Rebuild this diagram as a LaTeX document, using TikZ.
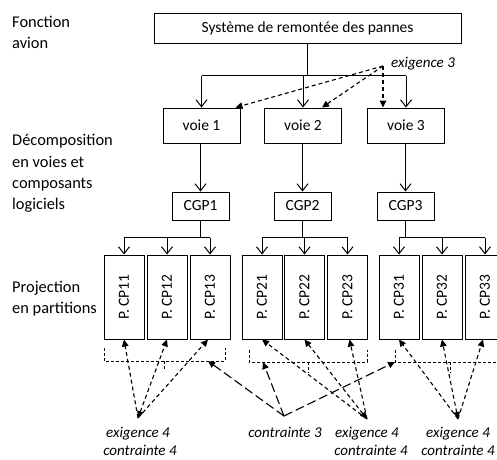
\documentclass[tikz,border=0pt]{standalone}
\usepackage{fontspec}
\usepackage{graphicx}
\setmainfont{Carlito}
\usetikzlibrary{arrows.meta}
\begin{document}
\begin{tikzpicture}[x=1pt,y=-1pt,
  dtip/.tip={Triangle[length=7pt,width=6.5pt]},
  vtip/.tip={Straight Barb[length=7pt,width=11pt,line width=1pt]},
  wire/.style={line width=1pt},
  box/.style={draw, wire, inner sep=0pt, font=\fontsize{15.5}{18}\selectfont},
  voiebox/.style={box, minimum width=77pt, minimum height=35pt},
  cgpbox/.style={box, minimum width=57pt, minimum height=28pt},
  partbox/.style={box, minimum width=40pt, minimum height=84pt},
  down/.style={wire, -vtip},
  ref/.style={line width=1.1pt, dash pattern=on 4pt off 3pt, -dtip},
  reflong/.style={line width=1.1pt, dash pattern=on 9pt off 4pt, -dtip},
  bracket/.style={line width=1pt, dash pattern=on 3pt off 2pt},
  side/.style={anchor=base west, inner sep=0pt, font=\fontsize{16.4}{20}\selectfont},
  note/.style={inner sep=0pt, font=\fontsize{15}{18}\selectfont\itshape}]
\useasboundingbox (0,0) rectangle (497,459);
\clip (0,0) rectangle (497,459);

% level labels on the left
\node[side] (la1) at (12,27) {Fonction};
\node[side] (la2) at (12,48) {avion};
\node[side] (lb1) at (12,145) {Décomposition};
\node[side] (lb2) at (12,167) {en voies et};
\node[side] (lb3) at (12,188) {composants};
\node[side] (lb4) at (12,209) {logiciels};
\node[side] (lc1) at (12,292) {Projection};
\node[side] (lc2) at (12,313) {en partitions};

% function, channels, components
\node[box, minimum width=307pt, minimum height=30pt] (sys) at (307.5,28) {Système de remontée des pannes};
\node[voiebox] (v1) at (201.5,125.5) {voie 1};
\node[voiebox] (v2) at (303,125.5) {voie 2};
\node[voiebox] (v3) at (406,125.5) {voie 3};
\node[cgpbox] (c1) at (200.5,206) {CGP1};
\node[cgpbox] (c2) at (302.5,206) {CGP2};
\node[cgpbox] (c3) at (405.5,206) {CGP3};

% partitions
\foreach \nm/\x/\t in {p11/124/11, p12/167/12, p13/210/13,
                       p21/262/21, p22/304.5/22, p23/347.5/23,
                       p31/399/31, p32/442/32, p33/485/33}
  \node[partbox] (\nm) at (\x,297) {\rotatebox{90}{P. CP\t}};

% tree: function to channels
\draw[wire] (sys.south) -- ++(0,32) coordinate (t0);
\draw[wire] (v1.north |- t0) -- (v3.north |- t0);
\foreach \n in {v1,v2,v3} \draw[down] (\n.north |- t0) -- (\n.north);

% channels to components
\foreach \v/\c in {v1/c1,v2/c2,v3/c3} \draw[down] (\c.north |- \v.south) -- (\c.north);

% components to partitions
\foreach \c/\a/\b/\cc in {c1/p11/p12/p13, c2/p21/p22/p23, c3/p31/p32/p33}{
  \draw[wire] (\c.south) -- ++(0,17) coordinate (j);
  \draw[wire] (\a.north |- j) -- (\cc.north |- j);
  \foreach \p in {\a,\b,\cc} \draw[down] (\p.north |- j) -- (\p.north);
}

% dashed groupings under the partitions
\draw[bracket] (104,348) -- (104,361) -- (225,361) -- (225,348);
\draw[bracket] (164.5,361) -- (164.5,371);
\draw[bracket] (249,350) -- (249,362) -- (367,362) -- (367,350);
\draw[bracket] (308,362) -- (308,373);
\draw[bracket] (395,350) -- (395,362) -- (505,362) -- (505,350);
\draw[bracket] (450,362) -- (450,373);
\coordinate (b1) at (208,361);
\coordinate (b2) at (263,362);
\coordinate (b3) at (395,362);

% requirement 3
\node[note, anchor=west] (ex3) at (391,64) {exigence 3};
\coordinate (x3) at (383,66);
\draw[ref] (x3) -- ([xshift=-5pt]v1.north east);
\draw[ref] (x3) -- ([xshift=19pt]v2.north);
\draw[ref] (x3) -- (x3 |- v3.north);

% requirements / constraints 4
\coordinate (e1) at (138,418);
\coordinate (e2) at (367,419);
\coordinate (e3) at (458,419);
\draw[ref] (e1) -- (p11.south);
\draw[ref, dtip-dtip] (e1) -- (p12.south);
\draw[ref] (e1) -- ([xshift=-2pt]p13.south);
\draw[ref] (e2) -- (p21.south);
\draw[ref, dtip-dtip] (e2) -- (p22.south);
\draw[ref] (e2) -- ([xshift=2pt]p23.south);
\draw[ref] (e3) -- (p31.south);
\draw[ref, dtip-dtip] (e3) -- (p32.south);
\draw[ref] (e3) -- ([xshift=-2pt]p33.south);

% constraint 3
\coordinate (k3) at (284,416);
\draw[reflong] (k3) -- (b1);
\draw[reflong] (k3) -- (b2);
\draw[reflong] (k3) -- (b3);

% bottom labels
\node[note] (ex4a) at (138,434) {exigence 4};
\node[note] (ct4a) at (140,450) {contrainte 4};
\node[note] (ct3) at (285,432) {contrainte 3};
\node[note] (ex4b) at (367,434) {exigence 4};
\node[note] (ct4b) at (371,450) {contrainte 4};
\node[note] (ex4c) at (458,434) {exigence 4};
\node[note] (ct4c) at (458,450) {contrainte 4};
\end{tikzpicture}
\end{document}
